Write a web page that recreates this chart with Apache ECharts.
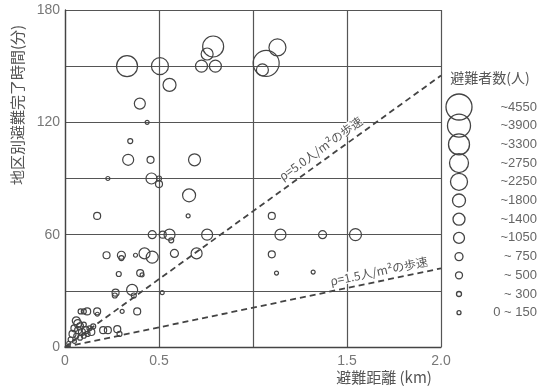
<!DOCTYPE html>
<html>
<head>
<meta charset="utf-8">
<script src="https://cdn.jsdelivr.net/npm/echarts@6/dist/echarts.min.js"></script>
<style>
  html, body { margin: 0; padding: 0; background: #fff; }
  #chart { width: 542px; height: 386px; }
</style>
</head>
<body>
<div id="chart"></div>
<script>
// distance (km), completion time (min), evacuees class (upper bound)
const distance = [
  0.33, 0.505, 0.556, 0.398, 0.437, 0.347, 0.336, 0.455, 0.689, 0.228,
  0.46, 0.50, 0.50, 0.66, 0.726, 0.80, 0.756, 0.788, 1.07, 1.05,
  1.13, 0.171, 0.655, 0.464, 0.52, 0.556, 0.565, 0.756, 0.70, 0.582,
  0.464, 0.423, 0.375, 0.30, 0.30, 0.221, 0.286, 0.40, 0.41, 0.357,
  0.366, 0.269, 0.265, 0.517, 0.384, 0.304, 0.171, 0.172, 0.118, 0.10,
  0.083, 0.203, 0.228, 0.278, 0.29, 0.068, 0.04, 0.05, 0.06, 0.07,
  0.08, 0.09, 0.10, 0.11, 0.12, 0.13, 0.14, 0.03, 0.05, 0.08,
  0.06, 0.15, 0.02, 0.10, 1.10, 1.146, 1.37, 1.545, 1.10, 1.125, 1.32
]
const timeMin = [
  150, 150, 140, 130, 120, 110, 100, 100, 100, 90,
  90, 90, 87, 81, 150, 150, 156.5, 160.5, 151.5, 148,
  160, 70, 70, 60, 60, 60, 57, 60, 50, 50,
  48, 50, 49, 49, 47.5, 49, 39, 39.5, 38.5, 30.5,
  27.5, 29, 27.5, 29, 19, 19, 19, 17.5, 19, 19,
  19, 9, 9, 9.5, 7, 12.5, 7, 10, 6, 9,
  5, 8, 6, 9, 7, 10, 8, 4, 3, 11,
  14, 11, 2, 12, 70, 60, 60, 60, 49.5, 39.5, 40
]
const evacuees = [
  3300, 2250, 1800, 1050, 150, 300, 1050, 500, 1400, 150,
  1050, 300, 500, 1800, 1400, 1400, 1400, 3300, 4550, 1400,
  2250, 500, 150, 750, 500, 1050, 300, 1050, 1050, 750,
  1400, 1050, 150, 750, 300, 500, 300, 500, 150, 1050,
  300, 500, 300, 150, 500, 150, 500, 150, 500, 300,
  300, 500, 500, 500, 300, 750, 500, 500, 300, 500,
  300, 500, 300, 500, 300, 300, 500, 300, 150, 500,
  750, 300, 150, 300, 500, 1050, 750, 1400, 500, 150, 150
]

const classValues = [4550, 3900, 3300, 2750, 2250, 1800, 1400, 1050, 750, 500, 300, 150]
const classLabels = ['~4550', '~3900', '~3300', '~2750', '~2250', '~1800', '~1400', '~1050', '~ 750', '~ 500', '~ 300', '0 ~ 150']

// walking-speed lines, end point at 2.0 km
const lineLabels = ['ρ=5.0人/m²の歩速', 'ρ=1.5人/m²の歩速']
const lineEnds = [[2.0, 145], [2.0, 42]]
const lineLabelAt = [[1.36, 106], [1.67, 40.5]]

const classSizes = [26, 23, 21, 19, 17, 13, 12, 11, 8, 7, 5, 4]
const sizeOf = (n) => classSizes[classValues.indexOf(n)]

const ink = '#444'
const chart = echarts.init(document.getElementById('chart'))

const points = distance.map((d, i) => [d, timeMin[i], evacuees[i]])

const option = {
  backgroundColor: '#fff',
  animation: false,
  grid: { left: 65, right: 101, top: 10, bottom: 39 },
  xAxis: {
    type: 'value',
    min: 0,
    max: 2,
    interval: 0.5,
    axisLine: { lineStyle: { color: ink, width: 1.3 } },
    axisTick: { show: false },
    axisLabel: {
      color: '#777',
      fontSize: 14,
      fontFamily: 'Liberation Sans Narrow, sans-serif',
      margin: 7,
      formatter: (v) => (v === 0 ? '0' : v === 1 ? '' : v.toFixed(1)),
    },
    splitLine: { show: true, lineStyle: { color: '#555', width: 1.2 } },
  },
  yAxis: {
    type: 'value',
    min: 0,
    max: 180,
    interval: 30,
    axisLine: { show: true, lineStyle: { color: ink, width: 1.3 } },
    axisTick: { show: false },
    axisLabel: {
      color: '#777',
      fontSize: 14,
      fontFamily: 'Liberation Sans Narrow, sans-serif',
      margin: 5,
      formatter: (v) => (v % 60 === 0 ? String(v) : ''),
    },
    splitLine: { show: true, lineStyle: { color: '#555', width: 1.2 } },
  },
  series: [
    ...lineEnds.map((end) => ({
      type: 'line',
      data: [[0, 0], end],
      symbol: 'none',
      lineStyle: { color: ink, width: 1.8, type: [6, 4] },
      z: 3,
    })),
    {
      type: 'scatter',
      data: points,
      symbol: 'circle',
      symbolSize: (v) => sizeOf(v[2]),
      itemStyle: { color: 'rgba(0,0,0,0)', borderColor: ink, borderWidth: 1.2, opacity: 1 },
      z: 4,
    },
  ],
}
chart.setOption(option)

// texts and legend drawn after the axes exist
const graphics = []
lineLabels.forEach((txt, i) => {
  const p0 = chart.convertToPixel('grid', [0, 0])
  const p1 = chart.convertToPixel('grid', lineEnds[i])
  const pos = chart.convertToPixel('grid', lineLabelAt[i])
  graphics.push({
    type: 'text',
    x: pos[0],
    y: pos[1],
    rotation: Math.atan2(p0[1] - p1[1], p1[0] - p0[0]),
    style: {
      text: txt,
      fill: '#555',
      font: '12px "Noto Sans CJK JP", sans-serif',
      textAlign: 'center',
      textVerticalAlign: 'middle',
      backgroundColor: '#fff',
    },
    z: 10,
  })
})

graphics.push({
  type: 'text',
  x: 17,
  y: 105,
  rotation: Math.PI / 2,
  style: {
    text: '地区別避難完了時間(分)',
    fill: '#555',
    font: '15px "Noto Sans CJK JP", sans-serif',
    textAlign: 'center',
    textVerticalAlign: 'middle',
  },
})
graphics.push({
  type: 'text',
  x: 384,
  y: 377,
  style: {
    text: '避難距離 (km)',
    fill: '#555',
    font: '15px "Noto Sans CJK JP", sans-serif',
    textAlign: 'center',
    textVerticalAlign: 'middle',
  },
})
graphics.push({
  type: 'text',
  x: 490,
  y: 78,
  style: {
    text: '避難者数(人)',
    fill: '#555',
    font: '14px "Noto Sans CJK JP", sans-serif',
    textAlign: 'center',
    textVerticalAlign: 'middle',
  },
})
classValues.forEach((v, i) => {
  const cy = 107 + i * 18.7
  graphics.push({
    type: 'circle',
    shape: { cx: 459, cy: cy, r: classSizes[i] / 2 },
    style: { fill: 'none', stroke: ink, lineWidth: 1.3 },
  })
  graphics.push({
    type: 'text',
    x: 537,
    y: cy,
    style: {
      text: classLabels[i],
      fill: '#666',
      font: '13px "Liberation Sans Narrow", sans-serif',
      textAlign: 'right',
      textVerticalAlign: 'middle',
    },
  })
})

chart.setOption({ graphic: graphics })
</script>
</body>
</html>
